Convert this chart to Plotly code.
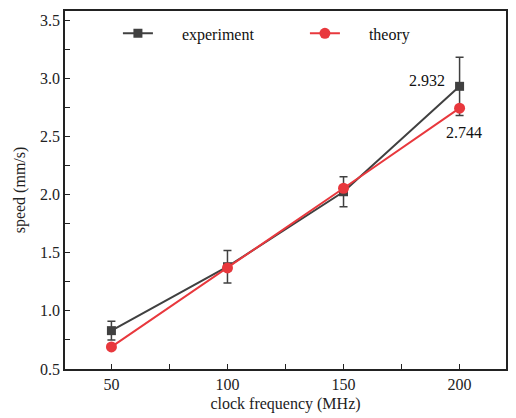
import plotly.graph_objects as go

# clock frequency (MHz)
freq = [50, 100, 150, 200]
# measured speed (mm/s) with error bar half-widths
exp_speed = [0.83, 1.38, 2.025, 2.932]
exp_err = [0.08, 0.14, 0.13, 0.25]
# theoretical speed (mm/s)
theory_speed = [0.69, 1.37, 2.055, 2.744]

dark = "#404040"
red = "#e8383d"
font_family = '"Liberation Serif", "Times New Roman", serif'
FS = 16
pad = "\u00a0" * 6

fig = go.Figure()

fig.add_trace(go.Scatter(
    x=freq, y=exp_speed, mode="lines+markers",
    name=pad + "experiment",
    line=dict(color=dark, width=2),
    marker=dict(symbol="square", size=9, color=dark),
    error_y=dict(type="data", array=exp_err, visible=True,
                 color=dark, thickness=1.5, width=4),
))

fig.add_trace(go.Scatter(
    x=freq, y=theory_speed, mode="lines+markers",
    name=pad + "theory",
    line=dict(color=red, width=2),
    marker=dict(symbol="circle", size=11, color=red),
))

# value labels at the last point of each series
fig.add_annotation(x=freq[-1], y=exp_speed[-1], text=f"{exp_speed[-1]:.3f}",
                   showarrow=False, xanchor="right", yanchor="middle",
                   xshift=-13, yshift=6,
                   font=dict(family=font_family, size=FS, color="#111"))
fig.add_annotation(x=freq[-1], y=theory_speed[-1], text=f"{theory_speed[-1]:.3f}",
                   showarrow=False, xanchor="center", yanchor="middle",
                   xshift=4, yshift=-24,
                   font=dict(family=font_family, size=FS, color="#111"))

axis_common = dict(
    showline=True, linecolor="#222", linewidth=1.5, mirror=True,
    ticks="inside", ticklen=5, tickwidth=1.2, tickcolor="#222",
    showgrid=False, zeroline=False,
    tickfont=dict(family=font_family, size=FS, color="#222"),
)

fig.update_xaxes(
    range=[30, 220], tickvals=freq,
    minor=dict(tickvals=[75, 125, 175], ticks="inside", ticklen=5, tickcolor="#222", tickwidth=1.2),
    title=dict(text="clock frequency (MHz)", standoff=6,
               font=dict(family=font_family, size=FS, color="#222")),
    **axis_common,
)
fig.update_yaxes(
    range=[0.5, 3.58], tickvals=[0.5, 1.0, 1.5, 2.0, 2.5, 3.0, 3.5],
    tickformat=".1f",
    minor=dict(dtick=0.25, ticks="inside", ticklen=5, tickcolor="#222", tickwidth=1.2),
    title=dict(text="speed (mm/s)", standoff=10,
               font=dict(family=font_family, size=FS, color="#222")),
    **axis_common,
)

fig.update_layout(
    width=516, height=418,
    margin=dict(l=65, r=8, t=11, b=49),
    paper_bgcolor="white", plot_bgcolor="white",
    font=dict(family=font_family),
    showlegend=True,
    legend=dict(orientation="h", x=0.12, y=0.985, xanchor="left", yanchor="top",
                bgcolor="rgba(0,0,0,0)", entrywidth=142, entrywidthmode="pixels",
                font=dict(family=font_family, size=FS, color="#111"),
                itemwidth=30),
)

fig.write_html("out.html")
